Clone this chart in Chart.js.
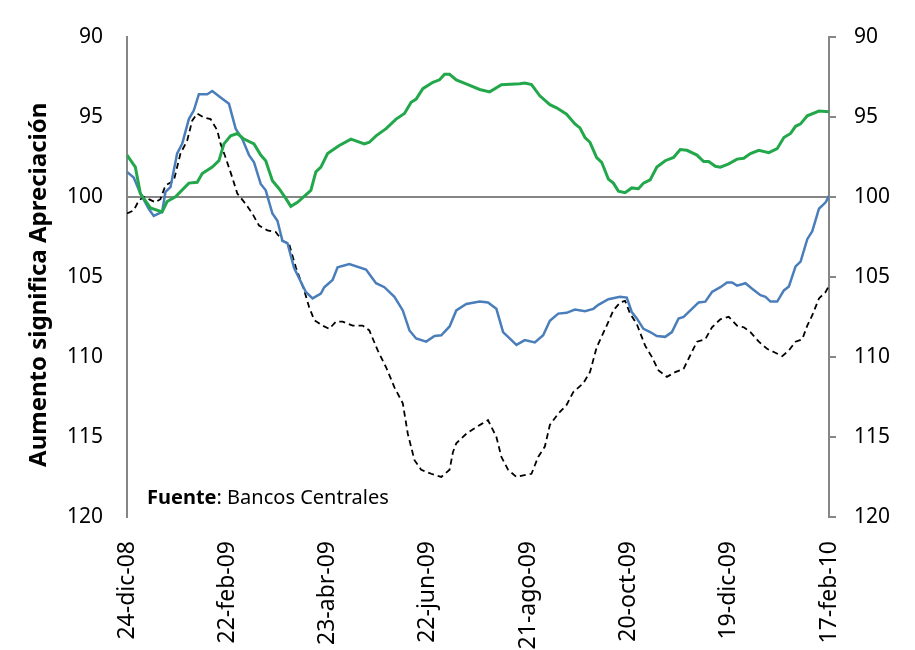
<!DOCTYPE html>
<html>
<head>
<meta charset="utf-8">
<script src="https://cdn.jsdelivr.net/npm/chart.js@4.4.0/dist/chart.umd.min.js"></script>
<style>
  html, body { margin: 0; padding: 0; background: #fff; }
  #wrap { width: 915px; height: 650px; }
</style>
</head>
<body>
<div id="wrap"><canvas id="myChart" width="915" height="650"></canvas></div>
<script>
// dias desde el 24-dic-08
var etiquetasX = ['24-dic-08', '22-feb-09', '23-abr-09', '22-jun-09', '21-ago-09', '20-oct-09', '19-dic-09', '17-feb-10'];
var ticksY = [90, 95, 100, 105, 110, 115, 120];

// linea verde
var diasVerde = [0, 5, 8, 14, 21, 24, 29, 37, 42, 45, 51, 55, 58, 62, 66, 70, 76, 80, 83, 87, 91, 95, 98, 102, 110, 113, 116, 120, 127, 134, 142, 145, 149, 155, 161, 166, 170, 173, 177, 183, 187, 190, 193, 197, 204, 211, 217, 224, 235, 238, 242, 247, 253, 257, 263, 268, 271, 274, 277, 281, 284, 288, 291, 294, 298, 302, 306, 309, 313, 317, 322, 327, 331, 335, 341, 345, 348, 352, 355, 360, 365, 369, 373, 378, 384, 389, 393, 397, 400, 403, 407, 414, 420];
var verde = [97.4, 98.15, 99.8, 100.7, 100.95, 100.3, 100.0, 99.15, 99.1, 98.55, 98.15, 97.75, 96.7, 96.2, 96.05, 96.4, 96.7, 97.4, 97.75, 99.0, 99.5, 100.1, 100.6, 100.35, 99.6, 98.45, 98.15, 97.3, 96.8, 96.4, 96.7, 96.6, 96.2, 95.75, 95.15, 94.8, 94.1, 93.9, 93.25, 92.85, 92.7, 92.35, 92.35, 92.7, 93.0, 93.3, 93.45, 93.0, 92.95, 92.9, 93.0, 93.7, 94.25, 94.45, 94.85, 95.45, 95.7, 96.3, 96.6, 97.55, 97.85, 98.9, 99.15, 99.65, 99.75, 99.45, 99.5, 99.15, 98.95, 98.15, 97.75, 97.55, 97.05, 97.1, 97.4, 97.8, 97.8, 98.1, 98.15, 97.95, 97.65, 97.6, 97.3, 97.1, 97.25, 97.0, 96.3, 96.05, 95.6, 95.45, 94.95, 94.65, 94.7];

// linea azul
var diasAzul = [0, 4, 8, 13, 16, 21, 23, 26, 30, 33, 37, 40, 43, 48, 51, 56, 61, 65, 69, 73, 76, 80, 83, 87, 90, 93, 96, 100, 107, 111, 116, 118, 123, 126, 133, 143, 149, 154, 160, 165, 169, 173, 179, 184, 188, 193, 197, 203, 211, 216, 221, 225, 228, 233, 238, 244, 249, 253, 258, 263, 268, 274, 279, 282, 288, 295, 299, 302, 305, 309, 313, 317, 322, 326, 330, 333, 338, 342, 346, 350, 355, 359, 362, 365, 370, 374, 379, 382, 385, 389, 393, 396, 400, 403, 407, 410, 414, 418, 420];
var azul = [98.45, 98.8, 99.8, 100.75, 101.2, 100.95, 99.7, 99.4, 97.3, 96.7, 95.15, 94.6, 93.6, 93.6, 93.4, 93.8, 94.2, 95.75, 96.4, 97.4, 97.85, 99.2, 99.6, 101.05, 101.5, 102.75, 102.9, 104.45, 105.95, 106.35, 106.05, 105.65, 105.2, 104.4, 104.2, 104.55, 105.4, 105.65, 106.25, 107.1, 108.35, 108.85, 109.05, 108.7, 108.65, 108.1, 107.1, 106.7, 106.55, 106.6, 107.0, 108.45, 108.75, 109.25, 108.95, 109.1, 108.65, 107.75, 107.3, 107.25, 107.05, 107.15, 107.0, 106.75, 106.4, 106.25, 106.3, 107.2, 107.6, 108.25, 108.45, 108.7, 108.75, 108.45, 107.6, 107.5, 107.0, 106.6, 106.55, 105.95, 105.65, 105.35, 105.35, 105.55, 105.4, 105.75, 106.15, 106.25, 106.55, 106.55, 105.85, 105.6, 104.35, 104.05, 102.65, 102.15, 100.75, 100.35, 99.95];

// linea negra punteada
var diasNegro = [0, 4, 7, 10, 13, 17, 20, 23, 28, 32, 36, 39, 42, 46, 50, 54, 56, 59, 63, 66, 71, 75, 79, 84, 89, 93, 97, 101, 106, 109, 112, 117, 121, 125, 129, 135, 141, 145, 150, 155, 160, 165, 168, 172, 176, 182, 188, 193, 195, 197, 203, 208, 212, 216, 221, 224, 228, 233, 242, 246, 250, 253, 258, 263, 267, 273, 277, 281, 287, 291, 295, 298, 301, 305, 310, 314, 318, 323, 328, 333, 337, 341, 346, 350, 355, 360, 365, 369, 373, 378, 383, 387, 392, 396, 400, 404, 407, 410, 414, 418, 420];
var negro = [101.05, 100.85, 100.25, 100.0, 100.15, 100.35, 100.15, 99.3, 99.0, 97.3, 96.5, 95.25, 94.8, 95.05, 95.15, 95.85, 96.7, 97.55, 98.8, 99.8, 100.45, 101.05, 101.8, 102.1, 102.2, 102.75, 102.95, 104.4, 105.85, 106.9, 107.7, 108.05, 108.25, 107.8, 107.8, 108.05, 108.05, 108.35, 109.6, 110.65, 111.9, 112.9, 114.8, 116.45, 117.05, 117.3, 117.5, 117.05, 115.95, 115.4, 114.8, 114.45, 114.2, 113.95, 115.0, 116.25, 117.05, 117.5, 117.3, 116.25, 115.6, 114.25, 113.55, 113.0, 112.2, 111.65, 110.95, 109.4, 108.05, 107.1, 106.6, 106.5, 107.3, 107.95, 109.3, 110.0, 110.85, 111.25, 110.95, 110.75, 109.9, 109.05, 108.9, 108.15, 107.65, 107.5, 108.05, 108.15, 108.45, 109.05, 109.5, 109.7, 109.95, 109.6, 109.05, 108.9, 108.05, 107.4, 106.35, 105.95, 105.55];

var gris = '#868686';
var fuente = "'Noto Sans', sans-serif";

function puntos(dias, valores) {
    var res = [];
    for (var i = 0; i < dias.length; i++) {
        res.push({ x: dias[i], y: valores[i] });
    }
    return res;
}

// textos fijos: titulo del eje y fuente
var textosPlugin = {
    id: 'textos',
    afterDraw: function (chart) {
        var ctx = chart.ctx;
        var area = chart.chartArea;
        ctx.save();
        ctx.fillStyle = '#000';
        ctx.translate(39, (area.top + area.bottom) / 2 + 8);
        ctx.rotate(-Math.PI / 2);
        ctx.textAlign = 'center';
        ctx.textBaseline = 'middle';
        ctx.font = "bold 24px " + fuente;
        ctx.fillText('Aumento significa Apreciación', 0, 0);
        ctx.restore();

        ctx.save();
        ctx.fillStyle = '#000';
        ctx.textBaseline = 'alphabetic';
        ctx.font = "bold 20px " + fuente;
        var x = 147, y = 504;
        ctx.fillText('Fuente', x, y);
        x += ctx.measureText('Fuente').width;
        ctx.font = "20px " + fuente;
        ctx.fillText(': Bancos Centrales', x, y);
        ctx.restore();
    }
};

var ctx = document.getElementById('myChart').getContext('2d');
var myChart = new Chart(ctx, {
    type: 'line',
    data: {
        datasets: [{
            data: puntos(diasVerde, verde),
            borderColor: '#22A84B',
            borderWidth: 3,
            pointRadius: 0,
            tension: 0
        }, {
            data: puntos(diasAzul, azul),
            borderColor: '#4A7EBB',
            borderWidth: 2.5,
            pointRadius: 0,
            tension: 0
        }, {
            data: puntos(diasNegro, negro),
            borderColor: '#000000',
            borderWidth: 1.8,
            borderDash: [6, 4],
            pointRadius: 0,
            tension: 0
        }]
    },
    options: {
        responsive: false,
        animation: false,
        layout: { padding: { top: 36, left: 0, right: 0, bottom: 0 } },
        plugins: { legend: { display: false }, tooltip: { enabled: false } },
        scales: {
            x: {
                type: 'linear',
                min: 0,
                max: 420,
                grid: { display: false, drawTicks: false },
                border: { display: false },
                ticks: {
                    stepSize: 60,
                    autoSkip: false,
                    minRotation: 90,
                    maxRotation: 90,
                    padding: 24,
                    color: '#000',
                    font: { family: fuente, size: 23 },
                    callback: function (v, i) { return etiquetasX[i]; }
                },
                afterFit: function (s) { s.height = 133; }
            },
            y: {
                position: 'left',
                reverse: true,
                min: ticksY[0],
                max: ticksY[ticksY.length - 1],
                grid: {
                    drawTicks: false,
                    color: function (c) { return c.tick && c.tick.value === 100 ? gris : 'rgba(0,0,0,0)'; },
                    lineWidth: 2
                },
                border: { display: true, color: gris, width: 2 },
                ticks: {
                    stepSize: 5,
                    padding: 24,
                    color: '#000',
                    font: { family: fuente, size: 21 }
                },
                afterFit: function (s) { s.width = 127; }
            },
            y2: {
                position: 'right',
                reverse: true,
                min: ticksY[0],
                max: ticksY[ticksY.length - 1],
                grid: { drawOnChartArea: false, color: gris, tickColor: gris, tickLength: 7, lineWidth: 2 },
                border: { display: true, color: gris, width: 2 },
                ticks: {
                    stepSize: 5,
                    padding: 18,
                    color: '#000',
                    font: { family: fuente, size: 21 }
                },
                afterFit: function (s) { s.width = 86; }
            }
        }
    },
    plugins: [textosPlugin]
});
</script>
</body>
</html>
